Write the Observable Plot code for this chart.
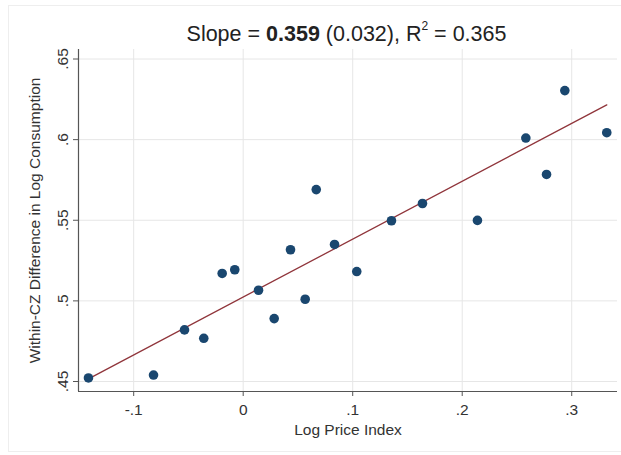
<!DOCTYPE html>
<html>
<head>
<meta charset="utf-8">
<script src="https://cdn.jsdelivr.net/npm/d3@7"></script>
<script src="https://cdn.jsdelivr.net/npm/@observablehq/plot@0.6"></script>
<style>
  html, body { margin: 0; padding: 0; background: #ffffff; }
  #wrap { position: relative; width: 621px; height: 455px; overflow: hidden; }
  #frame { position: absolute; left: 8px; top: 5px; width: 620px; height: 447px; border: 1px solid #eeeeee; box-sizing: border-box; }
  #title { position: absolute; left: 0; width: 693px; top: 22px; text-align: center;
    font-family: "Liberation Sans", Arial, sans-serif; font-size: 21.5px; color: #222; white-space: nowrap; }
  #title sup { font-size: 12px; position: relative; top: -3px; }
  #chart { position: absolute; left: 0; top: 0; }
</style>
</head>
<body>
<div id="wrap">
  <div id="frame"></div>
  <div id="chart"></div>
  <div id="title">Slope = <b>0.359</b> (0.032), R<sup>2</sup> = 0.365</div>
</div>
<script>
// Binned scatter: log price index vs within-CZ difference in log consumption
const priceIndex = [-0.1413, -0.0819, -0.0536, -0.0360, -0.0192, -0.0077, 0.0140, 0.0283, 0.0432, 0.0566,
                    0.0667, 0.0834, 0.1037, 0.1354, 0.1637, 0.2139, 0.2581, 0.2770, 0.2937, 0.3320];
const consumption = [0.4522, 0.4540, 0.4820, 0.4768, 0.5170, 0.5193, 0.5066, 0.4890, 0.5317, 0.5010,
                     0.5690, 0.5350, 0.5182, 0.5497, 0.5604, 0.5499, 0.6010, 0.5784, 0.6304, 0.6043];
const fitIntercept = 0.5024;
const fitSlope = 0.359;
const xTicks = [-0.1, 0, 0.1, 0.2, 0.3];
const yTicks = [0.45, 0.5, 0.55, 0.6, 0.65];
const xLabel = "Log Price Index";
const yLabel = "Within-CZ Difference in Log Consumption";

const points = priceIndex.map((x, i) => ({x, y: consumption[i]}));
const xExt = d3.extent(priceIndex);
const fitLine = xExt.map(x => ({x, y: fitIntercept + fitSlope * x}));
const fmt = d => d === 0 ? "0" : String(+d.toFixed(2)).replace(/^(-?)0\./, "$1.");

const font = "'Liberation Sans', Arial, sans-serif";
const fs = 15.5;
const chart = Plot.plot({
  width: 621,
  height: 455,
  marginLeft: 78,
  marginRight: 4,
  marginTop: 49,
  marginBottom: 64,
  style: {fontFamily: font, fontSize: fs + "px", color: "#333", background: "transparent"},
  x: {domain: [-0.1504, 0.3418], ticks: xTicks},
  y: {domain: [0.4438, 0.6559], ticks: yTicks},
  marks: [
    Plot.gridX(xTicks, {stroke: "#e6e6e6", strokeOpacity: 1, strokeWidth: 1}),
    Plot.gridY(yTicks, {stroke: "#e6e6e6", strokeOpacity: 1, strokeWidth: 1}),
    Plot.axisX(xTicks, {tickFormat: fmt, tickSize: 5, tickPadding: 7, stroke: "#555", fill: "#333",
      fontSize: fs, label: null}),
    Plot.text([xLabel], {frameAnchor: "bottom", dy: 43, fontSize: fs, fill: "#333"}),
    Plot.axisY(yTicks, {tickSize: 5, text: null, stroke: "#555", label: null}),
    Plot.text(yTicks, {y: d => d, text: fmt, frameAnchor: "left", dx: -15, rotate: -90, textAnchor: "middle", fontSize: fs, fill: "#333"}),
    Plot.text([yLabel], {frameAnchor: "left", dx: -43, rotate: -90, textAnchor: "middle", fontSize: fs, fill: "#333"}),
    Plot.ruleX([-0.1504], {stroke: "#555", strokeWidth: 1.2}),
    Plot.ruleY([0.4438], {stroke: "#555", strokeWidth: 1.2}),
    Plot.line(fitLine, {x: "x", y: "y", stroke: "#90353b", strokeWidth: 1.3}),
    Plot.dot(points, {x: "x", y: "y", r: 4.8, fill: "#1a476f", stroke: "none"})
  ]
});
document.getElementById("chart").appendChild(chart);
</script>
</body>
</html>
